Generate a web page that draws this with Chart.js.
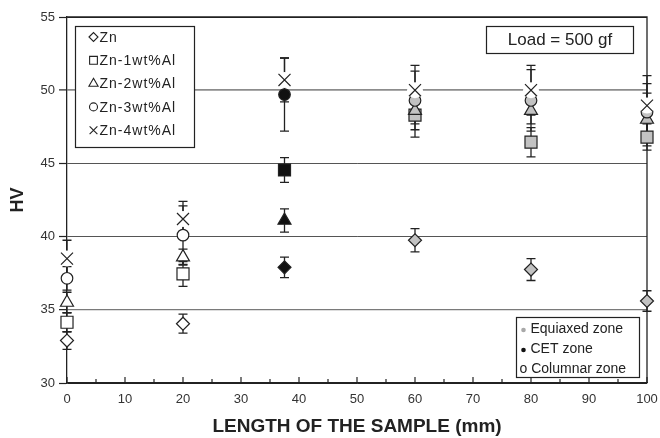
<!DOCTYPE html>
<html>
<head>
<meta charset="utf-8">
<script src="https://cdn.jsdelivr.net/npm/chart.js@4.4.0/dist/chart.umd.min.js"></script>
<style>
html, body { margin: 0; padding: 0; background: #fff; }
</style>
</head>
<body>
<canvas id="mychart" width="660" height="438"></canvas>
<script>
// positions along the sample (mm) and solidification zone at each one
const positions = [0, 20, 37.5, 60, 80, 100]
const zones = ['col', 'col', 'cet', 'eq', 'eq', 'eq']

const seriesNames = ['Zn', 'Zn-1wt%Al', 'Zn-2wt%Al', 'Zn-3wt%Al', 'Zn-4wt%Al']
const hvZn   = [32.9, 34.05, 37.9, 39.75, 37.75, 35.6]
const errZn  = [0.6, 0.65, 0.7, 0.8, 0.75, 0.7]
const hvZn1  = [34.15, 37.45, 44.55, 48.3, 46.45, 46.8]
const errZn1 = [0.65, 0.85, 0.85, 1.5, 1.0, 0.9]
const hvZn2  = [35.5, 38.6, 41.1, 48.6, 48.6, 48.0]
const errZn2 = [0.7, 0.55, 0.8, 0.9, 0.9, 1.8]
const hvZn3  = [37.15, 40.1, 49.7, 49.3, 49.3, 48.5]
const errZn3 = [0.8, 2.0, 2.5, 2.0, 2.1, 1.95]
const hvZn4  = [38.5, 41.2, 50.7, 50.0, 50.0, 48.95]
const errZn4 = [1.25, 1.2, 1.5, 1.7, 1.7, 2.05]

const yTicks = [30, 35, 40, 45, 50, 55]
const xTicks = [0, 10, 20, 30, 40, 50, 60, 70, 80, 90, 100]

const zoneNames = ['Equiaxed zone', 'CET zone', 'Columnar zone']
const loadText = 'Load = 500 gf'

const FONT = 'Liberation Sans, Arial, sans-serif'
const INK = '#222222'
const zoneFill = { col: '#ffffff', cet: '#111111', eq: '#c2c2c2' }

const allHv = [hvZn, hvZn1, hvZn2, hvZn3, hvZn4]
const allErr = [errZn, errZn1, errZn2, errZn3, errZn4]
const styles = ['rectRot', 'rect', 'triangle', 'circle', 'crossRot']
const radii = [6.5, 8.5, 7.5, 5.8, 8.5]

const datasets = allHv.map((hv, i) => ({
    label: seriesNames[i],
    data: positions.map((x, j) => ({ x: x, y: hv[j] })),
    showLine: false,
    pointStyle: styles[i],
    pointRadius: radii[i],
    pointHoverRadius: radii[i],
    pointBackgroundColor: zones.map(z => zoneFill[z]),
    pointBorderColor: INK,
    pointBorderWidth: 1.2,
    clip: false,
    order: 5 - i
}))

// error bars, frame, inward x ticks and the three boxes
const decor = {
    id: 'decor',
    beforeDatasetsDraw(chart) {
        const ctx = chart.ctx
        const ys = chart.scales.y
        const a = chart.chartArea
        ctx.save()
        ctx.strokeStyle = INK
        ctx.lineWidth = 1.3
        ctx.beginPath()
        ctx.moveTo(a.left, a.top)
        ctx.lineTo(a.right, a.top)
        ctx.lineTo(a.right, a.bottom)
        ctx.stroke()

        // x ticks pointing into the plot
        ctx.lineWidth = 1.2
        for (let v = 0; v <= 100; v += 5) {
            const px = chart.scales.x.getPixelForValue(v)
            const len = v % 10 === 0 ? 6 : 4
            ctx.beginPath()
            ctx.moveTo(px, a.bottom)
            ctx.lineTo(px, a.bottom - len)
            ctx.stroke()
        }

        ctx.lineWidth = 1.3
        allHv.forEach((hv, i) => {
            const meta = chart.getDatasetMeta(i)
            hv.forEach((v, j) => {
                const px = meta.data[j].x
                const top = ys.getPixelForValue(v + allErr[i][j])
                const bot = ys.getPixelForValue(v - allErr[i][j])
                ctx.beginPath()
                ctx.moveTo(px, top); ctx.lineTo(px, bot)
                ctx.moveTo(px - 4.5, top); ctx.lineTo(px + 4.5, top)
                ctx.moveTo(px - 4.5, bot); ctx.lineTo(px + 4.5, bot)
                ctx.stroke()
            })
        })
        ctx.restore()
    },
    beforeDatasetDraw(chart, args) {
        if (args.index !== 4) return
        const ctx = chart.ctx
        ctx.save()
        ctx.fillStyle = '#ffffff'
        args.meta.data.forEach(p => {
            ctx.beginPath()
            ctx.arc(p.x, p.y, 8, 0, Math.PI * 2)
            ctx.fill()
        })
        ctx.restore()
    },
    afterDraw(chart) {
        const ctx = chart.ctx
        ctx.save()
        ctx.strokeStyle = INK
        ctx.lineWidth = 1.2
        ctx.fillStyle = '#ffffff'

        // series legend
        ctx.fillRect(75, 26, 119, 121)
        ctx.strokeRect(75.5, 26.5, 119, 121)
        ctx.font = '14px ' + FONT
        ctx.textBaseline = 'middle'
        ctx.letterSpacing = '1px'
        const legR = [4.5, 5.5, 5.3, 4, 5.5]
        seriesNames.forEach((name, i) => {
            const y = 37 + i * 23.3
            ctx.fillStyle = '#ffffff'
            ctx.strokeStyle = INK
            ctx.lineWidth = 1.1
            Chart.helpers.drawPoint(ctx, { pointStyle: styles[i], radius: legR[i], rotation: 0, borderWidth: 1.1 }, 93.5, y)
            ctx.fillStyle = INK
            ctx.fillText(name, 99.5, y + 1)
        })
        ctx.letterSpacing = '0px'

        // load box
        ctx.fillStyle = '#ffffff'
        ctx.lineWidth = 1.2
        ctx.fillRect(486, 26, 147, 27)
        ctx.strokeRect(486.5, 26.5, 147, 27)
        ctx.fillStyle = INK
        ctx.font = '17px ' + FONT
        ctx.textAlign = 'center'
        ctx.fillText(loadText, 560, 40.5)

        // zone legend
        ctx.textAlign = 'left'
        ctx.fillStyle = '#ffffff'
        ctx.fillRect(516, 317.5, 123, 60)
        ctx.strokeRect(516.5, 317.5, 123, 60)
        ctx.font = '14px ' + FONT
        const dotCol = ['#a8a8a8', '#111111']
        zoneNames.forEach((name, i) => {
            const y = 328 + i * 20
            if (i < 2) {
                ctx.fillStyle = dotCol[i]
                ctx.beginPath()
                ctx.arc(523.5, y + 2, 2.3, 0, Math.PI * 2)
                ctx.fill()
                ctx.fillStyle = INK
                ctx.fillText(name, 530.5, y + 1)
            } else {
                ctx.fillStyle = INK
                ctx.fillText('o ' + name, 519.5, y + 1)
            }
        })
        ctx.restore()
    }
}

const ctx = document.getElementById('mychart').getContext('2d')
const mychart = new Chart(ctx, {
    type: 'scatter',
    data: { datasets: datasets },
    plugins: [decor],
    options: {
        responsive: false,
        devicePixelRatio: 1,
        animation: false,
        events: [],
        layout: { padding: { top: 17, right: 13, left: 0, bottom: 0 } },
        scales: {
            x: {
                type: 'linear',
                min: 0,
                max: 100,
                afterBuildTicks: s => { s.ticks = xTicks.map(v => ({ value: v })) },
                afterFit: s => { s.height = 55; s.paddingLeft = 0; s.paddingRight = 0 },
                grid: { display: false, drawTicks: false },
                border: { display: true, color: INK, width: 1.3 },
                ticks: { color: '#333', padding: 9, font: { family: FONT, size: 13 } },
                title: {
                    display: true,
                    text: 'LENGTH OF THE SAMPLE (mm)',
                    color: INK,
                    font: { family: FONT, size: 19, weight: 'bold' },
                    padding: { top: 0, bottom: 0 }
                }
            },
            y: {
                min: 30,
                max: 55,
                afterBuildTicks: s => { s.ticks = yTicks.map(v => ({ value: v })) },
                afterFit: s => { s.width = 67 },
                grid: {
                    color: c => {
                        const v = c.tick.value
                        if (v === 50) return '#8c8c8c'
                        if (v === 35) return '#7a7a7a'
                        if (v === 30 || v === 55) return INK
                        return '#555555'
                    },
                    lineWidth: c => (c.tick.value === 50 ? 1.8 : c.tick.value === 35 ? 1.3 : 1),
                    tickColor: INK,
                    tickWidth: 1.2,
                    tickLength: 8
                },
                border: { display: true, color: INK, width: 1.3 },
                ticks: { color: '#333', padding: 4, font: { family: FONT, size: 13 } },
                title: {
                    display: true,
                    text: 'HV',
                    color: INK,
                    font: { family: FONT, size: 18, weight: 'bold' },
                    padding: { top: 7, bottom: 0 }
                }
            }
        },
        plugins: {
            legend: { display: false },
            tooltip: { enabled: false }
        }
    }
})
</script>
</body>
</html>
